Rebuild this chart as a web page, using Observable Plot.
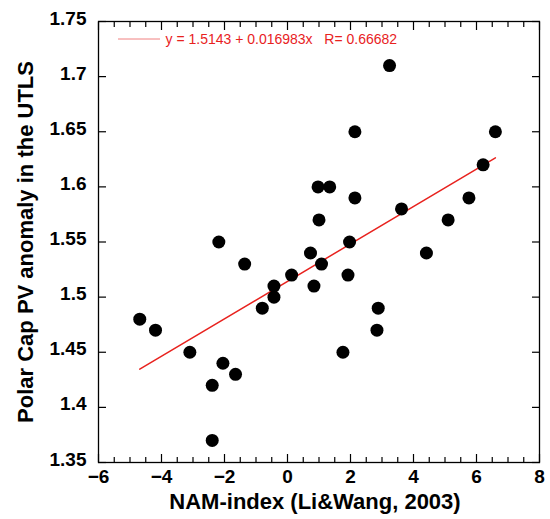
<!DOCTYPE html>
<html>
<head>
<meta charset="utf-8">
<script src="https://cdn.jsdelivr.net/npm/d3@7"></script>
<script src="https://cdn.jsdelivr.net/npm/@observablehq/plot@0.6"></script>
<style>
  html, body { margin: 0; padding: 0; background: #fff; }
</style>
</head>
<body>
<div id="chart"></div>
<script>
// NAM-index (x) and polar cap PV anomaly (y)
const namIndex = [-4.69, -4.19, -3.10, -2.39, -2.39, -2.18, -2.05, -1.65, -1.36, -0.80,
                  -0.43, -0.43, 0.13, 0.73, 0.84, 0.97, 1.00, 1.08, 1.34, 1.76,
                  1.92, 1.97, 2.14, 2.14, 2.84, 2.88, 3.24, 3.62, 4.41, 5.10,
                  5.76, 6.21, 6.60];
const pvAnomaly = [1.48, 1.47, 1.45, 1.42, 1.37, 1.55, 1.44, 1.43, 1.53, 1.49,
                   1.51, 1.50, 1.52, 1.54, 1.51, 1.60, 1.57, 1.53, 1.60, 1.45,
                   1.52, 1.55, 1.65, 1.59, 1.47, 1.49, 1.71, 1.58, 1.54, 1.57,
                   1.59, 1.62, 1.65];
const fitIntercept = 1.5143;
const fitSlope = 0.016983;
const fitR = 0.66682;
const xTicks = [-6, -4, -2, 0, 2, 4, 6, 8];
const xMinorTicks = [-5.5,-5,-4.5,-3.5,-3,-2.5,-1.5,-1,-0.5,0.5,1,1.5,2.5,3,3.5,4.5,5,5.5,6.5,7,7.5];
const yTicks = [1.35, 1.4, 1.45, 1.5, 1.55, 1.6, 1.65, 1.7, 1.75];
const xTitle = "NAM-index (Li&Wang, 2003)";
const yTitle = "Polar Cap PV anomaly in the UTLS";
const legendText = `y = ${fitIntercept} + ${fitSlope}x\u00a0\u00a0\u00a0R= ${fitR}`;

const points = namIndex.map((x, i) => ({x, y: pvAnomaly[i]}));
const xExt = d3.extent(namIndex);
const fitLine = xExt.map(x => ({x, y: fitIntercept + fitSlope * x}));

const ML = 98, MR = 11, MT = 21, MB = 57;

const legendLine = (index, scales, values, dims) => {
  const g = d3.create("svg:line")
    .attr("x1", dims.marginLeft + 20).attr("x2", dims.marginLeft + 62)
    .attr("y1", dims.marginTop + 18).attr("y2", dims.marginTop + 18)
    .attr("stroke", "#f08080").attr("stroke-width", 1);
  return g.node();
};

const chart = Plot.plot({
  width: 550,
  height: 519,
  marginLeft: ML, marginRight: MR, marginTop: MT, marginBottom: MB,
  style: {fontFamily: "'Liberation Sans', Arial, Helvetica, sans-serif", fontSize: "19px", fontWeight: "bold", color: "black", background: "white"},
  x: {domain: [-6, 8], label: null},
  y: {domain: [1.35, 1.75], label: null},
  marks: [
    // tick labels
    Plot.axisX({ticks: xTicks, tickSize: 0, tickPadding: 7, label: null, fill: "black"}),
    Plot.axisY({ticks: yTicks, tickSize: 0, tickPadding: 12, label: null, fill: "black", dy: -3, tickFormat: d => String(d)}),
    // inward ticks
    Plot.axisX({ticks: xTicks, tickSize: -8, tickFormat: () => "", label: null, stroke: "black", strokeWidth: 1.2}),
    Plot.axisX({ticks: xMinorTicks, tickSize: -5, tickFormat: () => "", label: null, stroke: "black", strokeWidth: 1.2}),
    Plot.axisX({anchor: "top", ticks: xTicks, tickSize: -8, tickFormat: () => "", label: null, stroke: "black", strokeWidth: 1.2}),
    Plot.axisX({anchor: "top", ticks: xMinorTicks, tickSize: -5, tickFormat: () => "", label: null, stroke: "black", strokeWidth: 1.2}),
    Plot.axisY({ticks: yTicks, tickSize: -8, tickFormat: () => "", label: null, stroke: "black", strokeWidth: 1.2}),
    Plot.axisY({anchor: "right", ticks: yTicks, tickSize: -8, tickFormat: () => "", label: null, stroke: "black", strokeWidth: 1.2}),
    Plot.frame({stroke: "black", strokeWidth: 1.3}),
    // fit line
    Plot.line(fitLine, {x: "x", y: "y", stroke: "#e8221e", strokeWidth: 1.5}),
    // points
    Plot.dot(points, {x: "x", y: "y", r: 6.5, fill: "black", stroke: "none"}),
    // legend
    legendLine,
    Plot.text([legendText], {frameAnchor: "top-left", dx: 67, dy: 18, text: d => d, fill: "#e8221e", fontSize: 14, fontWeight: "normal", textAnchor: "start", lineAnchor: "middle"}),
    // titles
    Plot.text([xTitle], {frameAnchor: "bottom", dy: 39, text: d => d, fontSize: 22, fontWeight: "bold", fill: "black", textAnchor: "middle", lineAnchor: "middle", dx: -4}),
    Plot.text([yTitle], {frameAnchor: "left", dx: -73, text: d => d, rotate: -90, fontSize: 22, fontWeight: "bold", fill: "black", textAnchor: "middle", lineAnchor: "middle"})
  ]
});
document.getElementById("chart").appendChild(chart);
</script>
</body>
</html>
